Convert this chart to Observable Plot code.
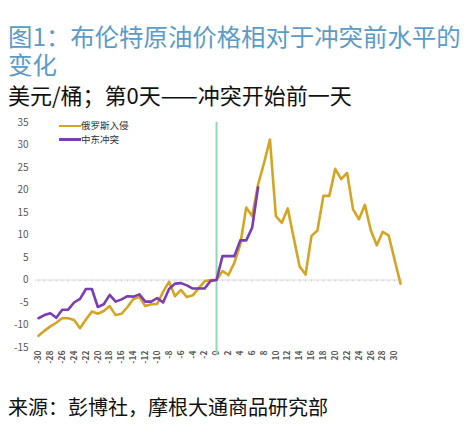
<!DOCTYPE html>
<html>
<head>
<meta charset="utf-8">
<script src="https://cdn.jsdelivr.net/npm/d3@7"></script>
<script src="https://cdn.jsdelivr.net/npm/@observablehq/plot@0.6"></script>
<style>
  html, body { margin: 0; padding: 0; background: #fff; }
  body { width: 474px; height: 439px; overflow: hidden; font-family: "Noto Sans CJK SC", "Noto Sans", sans-serif; }
  #title { margin: 22px 0 0 8px; font-size: 24.4px; line-height: 28px; color: #5b9bc8; }
  #subtitle { margin: 3px 0 0 8px; font-size: 22px; line-height: 26px; color: #111; }
  #chartwrap { position: relative; width: 474px; height: 265px; margin-top: 2px; }
  #legend { position: absolute; left: 59px; top: 10px; font-size: 9.5px; color: #333; }
  .item { display: flex; align-items: center; height: 13.5px; line-height: 13px; }
  .sw { display: inline-block; width: 22px; height: 2.5px; }
  #source { margin: 21px 0 0 8px; font-size: 20px; line-height: 24px; color: #111; }
</style>
</head>
<body>
<div id="title">图1：布伦特原油价格相对于冲突前水平的<br>变化</div>
<div id="subtitle">美元/桶；第0天——冲突开始前一天</div>
<div id="chartwrap">
  <div id="chart"></div>
  <div id="legend"></div>
</div>
<div id="source">来源：彭博社，摩根大通商品研究部</div>
<script>
// Series names and colours
const seriesNames = ["俄罗斯入侵", "中东冲突"];
const seriesColors = ["#d4a424", "#7a3db2"];

// Days relative to conflict start
const russiaDays = [-30,-29,-28,-27,-26,-25,-24,-23,-22,-21,-20,-19,-18,-17,-16,-15,-14,-13,-12,-11,-10,-9,-8,-7,-6,-5,-4,-3,-2,-1,0,1,2,3,4,5,6,7,8,9,10,11,12,13,14,15,16,17,18,19,20,21,22,23,24,25,26,27,28,29,30,31];
const russiaValues = [-12.4,-11.3,-10.3,-9.5,-8.5,-8.5,-8.9,-10.7,-8.8,-7.0,-7.5,-6.9,-5.8,-7.8,-7.5,-6.0,-4.2,-3.8,-5.8,-5.4,-5.3,-2.6,-0.4,-3.6,-2.2,-3.8,-3.4,-1.8,-0.3,0,0,2.0,1.1,3.8,7.9,16.1,14.2,21.2,26.0,31.2,14.2,12.7,15.9,9.4,3.0,1.2,9.8,11.0,18.7,18.7,24.7,22.4,23.8,15.7,13.5,16.7,11.0,7.7,10.7,9.9,4.5,-0.8];

const mideastDays = [-30,-29,-28,-27,-26,-25,-24,-23,-22,-21,-20,-19,-18,-17,-16,-15,-14,-13,-12,-11,-10,-9,-8,-7,-6,-5,-4,-3,-2,-1,0,1,2,3,4,5,6,7];
const mideastValues = [-8.5,-7.8,-7.4,-8.4,-6.6,-6.6,-5.0,-4.2,-2.0,-2.0,-6.0,-5.4,-3.3,-4.8,-4.3,-3.6,-3.7,-3.2,-4.8,-4.8,-4.0,-5.0,-2.0,-0.8,-0.7,-1.2,-1.9,-1.9,-1.9,-0.2,0,5.3,5.3,5.3,8.8,8.8,11.6,20.6];

// Axis ticks
const xTicks = [-30,-28,-26,-24,-22,-20,-18,-16,-14,-12,-10,-8,-6,-4,-2,0,2,4,6,8,10,12,14,16,18,20,22,24,26,28,30];
const yTicks = [-15,-10,-5,0,5,10,15,20,25,30,35];
const eventDay = [0];

const russia = russiaDays.map((d, i) => ({day: d, value: russiaValues[i]}));
const mideast = mideastDays.map((d, i) => ({day: d, value: mideastValues[i]}));

const chart = Plot.plot({
  width: 474,
  height: 265,
  marginLeft: 35,
  marginRight: 71,
  marginTop: 13,
  marginBottom: 27,
  style: {fontFamily: "'Noto Sans CJK SC', 'Noto Sans', sans-serif", background: "#fff", overflow: "visible"},
  x: {domain: [-30.5, 31.5]},
  y: {domain: [-15, 35]},
  marks: [
    Plot.axisY({ticks: yTicks, tickSize: 0, tickPadding: 7, label: null, fontSize: 10, fill: "#595959", tickFormat: d => String(d)}),
    Plot.axisX({ticks: xTicks, tickSize: 0, tickPadding: 3, tickRotate: -90, label: null, fontSize: 8.5, fontWeight: "bold", fill: "#595959", tickFormat: d => String(d)}),
    Plot.ruleY([0], {stroke: "#dcdcdc", strokeWidth: 1}),
    Plot.ruleX(russiaDays, {x: d => d, y1: 0, y2: -0.45, stroke: "#cfcfcf", strokeWidth: 1}),
    Plot.ruleX(eventDay, {stroke: "#8fd9b3", strokeWidth: 2, insetBottom: -8}),
    Plot.line(russia, {x: "day", y: "value", stroke: seriesColors[0], strokeWidth: 2.6, strokeLinejoin: "round"}),
    Plot.line(mideast, {x: "day", y: "value", stroke: seriesColors[1], strokeWidth: 2.6, strokeLinejoin: "round"})
  ]
});
document.getElementById("chart").appendChild(chart);

const legend = document.getElementById("legend");
seriesNames.forEach((name, i) => {
  const item = document.createElement("div");
  item.className = "item";
  const sw = document.createElement("span");
  sw.className = "sw";
  sw.style.background = seriesColors[i];
  const t = document.createElement("span");
  t.textContent = name;
  item.appendChild(sw);
  item.appendChild(t);
  legend.appendChild(item);
});
</script>
</body>
</html>
